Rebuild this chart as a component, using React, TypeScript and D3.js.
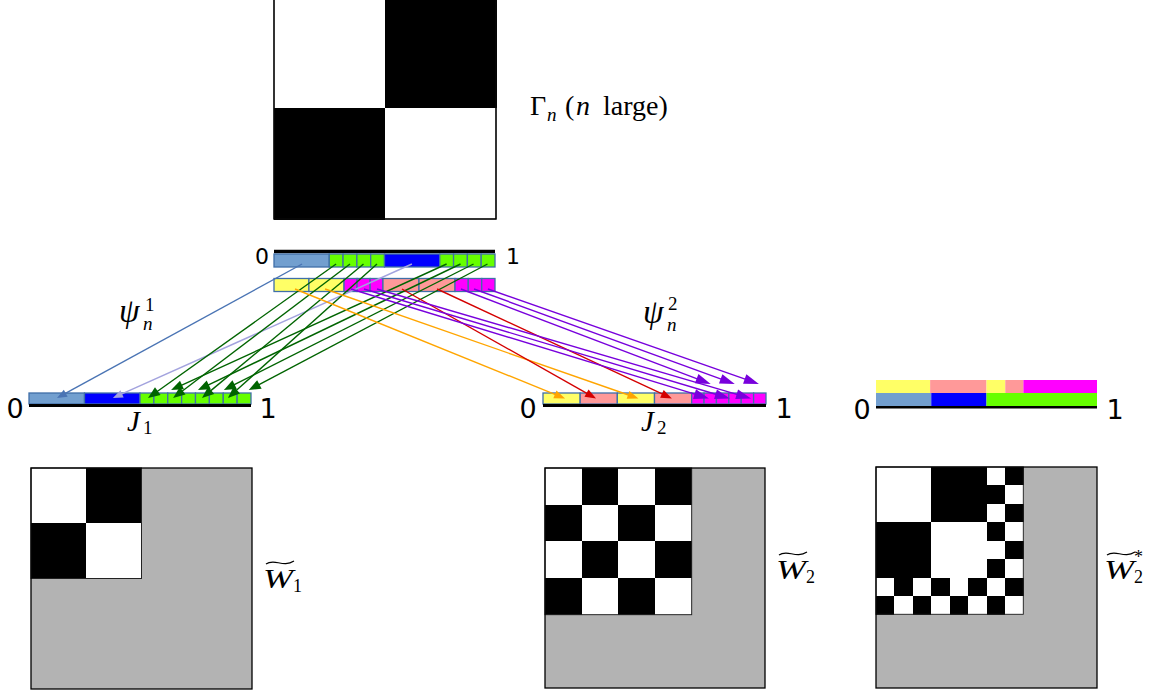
import React from 'react';
import * as d3 from 'd3';

// ---------- data ----------
const COLORS: Record<string, string> = {
  lb: '#729fcf', b: '#0000ff', g: '#66ff00', y: '#ffff66', p: '#ff9999', m: '#ff00ff',
};
const ARROW_COLORS: Record<string, string> = {
  steel: '#4a74b4', lav: '#a3a3de', green: '#006400', orange: '#ffa500', red: '#d40000', purple: '#7800dc',
};

// top bar (the interval [0,1] for Gamma_n), two rows
const topUpperBreaks = [0, 0.25, 0.3125, 0.375, 0.4375, 0.5, 0.75, 0.8125, 0.875, 0.9375, 1];
const topUpperColors = ['lb', 'g', 'g', 'g', 'g', 'b', 'g', 'g', 'g', 'g'];
const topLowerBreaks = [0, 0.158, 0.317, 0.376, 0.435, 0.493, 0.656, 0.819, 0.879, 0.94, 1];
const topLowerColors = ['y', 'y', 'm', 'm', 'm', 'p', 'p', 'm', 'm', 'm'];

// J1 bar
const j1Breaks = [0, 0.25, 0.5, 0.5625, 0.625, 0.6875, 0.75, 0.8125, 0.875, 0.9375, 1];
const j1Colors = ['lb', 'b', 'g', 'g', 'g', 'g', 'g', 'g', 'g', 'g'];
// J2 bar
const j2Breaks = [0, 1 / 6, 2 / 6, 3 / 6, 4 / 6, 13 / 18, 14 / 18, 15 / 18, 16 / 18, 17 / 18, 1];
const j2Colors = ['y', 'p', 'y', 'p', 'm', 'm', 'm', 'm', 'm', 'm'];
// third bar (two rows, no cell borders)
const thirdUpperBreaks = [0, 0.245, 0.5, 0.585, 0.667, 1];
const thirdUpperColors = ['y', 'p', 'y', 'p', 'm'];
const thirdLowerBreaks = [0, 0.25, 0.5, 1];
const thirdLowerColors = ['lb', 'b', 'g'];

// arrows from upper row of top bar to J1: [from, to, colour, level]
const psi1Arrows: [number, number, string, number][] = [
  [0.127, 0.126, 'steel', 0],
  [0.624, 0.378, 'lav', 0],
  [0.281, 0.536, 'green', 0],
  [0.344, 0.649, 'green', 0],
  [0.405, 0.779, 'green', 0],
  [0.466, 0.896, 'green', 0],
  [0.781, 0.640, 'green', 1],
  [0.844, 0.761, 'green', 1],
  [0.903, 0.878, 'green', 1],
  [0.966, 0.990, 'green', 1],
];
// arrows from lower row of top bar to J2
const psi2Arrows: [number, number, string, number][] = [
  [0.095, 0.099, 'orange', 0],
  [0.231, 0.428, 'orange', 0],
  [0.579, 0.238, 'red', 0],
  [0.738, 0.578, 'red', 0],
  [0.348, 0.744, 'purple', 0],
  [0.407, 0.838, 'purple', 0],
  [0.466, 0.933, 'purple', 0],
  [0.846, 0.752, 'purple', 1],
  [0.905, 0.860, 'purple', 1],
  [0.968, 0.968, 'purple', 1],
];

// matrices (1 = black, 0 = white); extent = share of [0,1] that is filled
const gammaMatrix = ['01', '10'];
const gammaExtent = 1;
const w1Matrix = ['01', '10'];
const w1Extent = 0.5;
const w2Matrix = ['0101', '1010', '0101', '1010'];
const w2Extent = 2 / 3;
const w2StarMatrix = [
  '00011101',
  '00011110',
  '00011101',
  '11100010',
  '11100001',
  '11100010',
  '01010101',
  '10101010',
];
const w2StarExtent = 2 / 3;

const digitLabels = ['0', '1'];

// ---------- helpers ----------
const CELL_STROKE = '#3f6fa8';
const GRAY = '#b3b3b3';

function Segments({ scale, breaks, colors, y, h, stroke }: any) {
  return (
    <g>
      {colors.map((c: string, i: number) => (
        <rect key={i} x={scale(breaks[i])} y={y} width={scale(breaks[i + 1]) - scale(breaks[i])} height={h}
          fill={COLORS[c]} stroke={stroke ? CELL_STROKE : 'none'} strokeWidth={stroke ? 1.3 : 0} />
      ))}
    </g>
  );
}

function Matrix({ x, y, size, rows, extent }: any) {
  const s = d3.scaleLinear().domain([0, 1]).range([0, size]);
  const n = rows.length;
  const cell = s(extent) / n;
  return (
    <g>
      <rect x={x} y={y} width={size} height={size} fill={GRAY} />
      <g shapeRendering="crispEdges">
        {rows.map((r: string, i: number) => r.split('').map((v, j) => (
          <rect key={i + '-' + j} x={x + j * cell} y={y + i * cell} width={cell + 0.5} height={cell + 0.5}
            fill={v === '1' ? '#000' : '#fff'} />
        )))}
      </g>
      <rect x={x} y={y} width={s(extent)} height={s(extent)} fill="none" stroke="#222" strokeWidth={1} />
      <rect x={x} y={y} width={size} height={size} fill="none" stroke="#000" strokeWidth={1.3} />
    </g>
  );
}

function Arrow({ x1, y1, x2, y2, color, len, hw }: any) {
  const dx = x2 - x1, dy = y2 - y1, L = Math.hypot(dx, dy);
  const ux = dx / L, uy = dy / L;
  const bx = x2 - ux * len, by = y2 - uy * len;
  const px = -uy * hw, py = ux * hw;
  return (
    <g>
      <line x1={x1} y1={y1} x2={bx + ux * 2} y2={by + uy * 2} stroke={color} strokeWidth={1.4} />
      <polygon points={`${x2},${y2} ${bx + px},${by + py} ${bx - px},${by - py}`} fill={color} />
    </g>
  );
}

function Tilde({ x, y, w }: any) {
  return (
    <path d={`M${x},${y + 2} C${x + w * 0.3},${y - 4} ${x + w * 0.6},${y + 6} ${x + w},${y - 1}`}
      fill="none" stroke="#000" strokeWidth={1.2} />
  );
}

const SERIF = '"Liberation Serif", "DejaVu Serif", serif';
const SANS = '"DejaVu Sans", sans-serif';

function WLabel({ x, y, sub, star }: any) {
  return (
    <g fontFamily={SERIF}>
      <Tilde x={x + 3} y={y - 26} w={28} />
      <text x={x} y={y} fontSize={28} fontStyle="italic" textLength={30} lengthAdjust="spacingAndGlyphs">W</text>
      <text x={x + 30} y={y + 4} fontSize={18}>{sub}</text>
      {star ? <text x={x + 30} y={y - 16} fontSize={18}>*</text> : null}
    </g>
  );
}

export default function App() {
  const xTop = d3.scaleLinear().domain([0, 1]).range([274, 495]);
  const xJ1 = d3.scaleLinear().domain([0, 1]).range([29, 251]);
  const xJ2 = d3.scaleLinear().domain([0, 1]).range([543, 766]);
  const x3 = d3.scaleLinear().domain([0, 1]).range([876, 1097]);

  const topUpperY = 254, topLowerY = 278.5, rowH = 13;
  const jRowY = 393, jRowH = 11;

  return (
    <svg width={1152} height={694} style={{ position: 'absolute', left: 0, top: 0, background: '#fff' }}>
      {/* Gamma_n matrix */}
      <Matrix x={274} y={-3} size={222} rows={gammaMatrix} extent={gammaExtent} />
      <g fontFamily={SERIF} fontSize={28}>
        <text x={530} y={115}>Γ</text>
        <text x={547} y={121} fontSize={19} fontStyle="italic">n</text>
        <text x={565} y={115}>(</text>
        <text x={576} y={115} fontStyle="italic">n</text>
        <text x={603} y={115}>large)</text>
      </g>

      {/* top bar */}
      <line x1={xTop(0)} x2={xTop(1)} y1={251.5} y2={251.5} stroke="#000" strokeWidth={3.5} />
      <Segments scale={xTop} breaks={topUpperBreaks} colors={topUpperColors} y={topUpperY} h={rowH} stroke />
      <Segments scale={xTop} breaks={topLowerBreaks} colors={topLowerColors} y={topLowerY} h={rowH} stroke />
      <text x={xTop(0) - 12} y={264} textAnchor="middle" fontFamily={SANS} fontSize={22}>{digitLabels[0]}</text>
      <text x={xTop(1) + 18} y={264} textAnchor="middle" fontFamily={SANS} fontSize={22}>{digitLabels[1]}</text>

      {/* J1 bar */}
      <Segments scale={xJ1} breaks={j1Breaks} colors={j1Colors} y={jRowY} h={jRowH} stroke />
      <line x1={xJ1(0)} x2={xJ1(1)} y1={405.5} y2={405.5} stroke="#000" strokeWidth={3} />
      <text x={xJ1(0) - 14} y={418} textAnchor="middle" fontFamily={SANS} fontSize={27}>{digitLabels[0]}</text>
      <text x={xJ1(1) + 17} y={418} textAnchor="middle" fontFamily={SANS} fontSize={27}>{digitLabels[1]}</text>
      <text x={127} y={431} fontFamily={SERIF} fontSize={29} fontStyle="italic">J</text>
      <text x={143} y={434} fontFamily={SERIF} fontSize={19}>1</text>

      {/* J2 bar */}
      <Segments scale={xJ2} breaks={j2Breaks} colors={j2Colors} y={jRowY} h={jRowH} stroke />
      <line x1={xJ2(0)} x2={xJ2(1)} y1={405.5} y2={405.5} stroke="#000" strokeWidth={3} />
      <text x={xJ2(0) - 15} y={418} textAnchor="middle" fontFamily={SANS} fontSize={27}>{digitLabels[0]}</text>
      <text x={xJ2(1) + 18} y={418} textAnchor="middle" fontFamily={SANS} fontSize={27}>{digitLabels[1]}</text>
      <text x={641} y={431} fontFamily={SERIF} fontSize={29} fontStyle="italic">J</text>
      <text x={657} y={434} fontFamily={SERIF} fontSize={19}>2</text>

      {/* third bar */}
      <Segments scale={x3} breaks={thirdUpperBreaks} colors={thirdUpperColors} y={380} h={13} />
      <Segments scale={x3} breaks={thirdLowerBreaks} colors={thirdLowerColors} y={393} h={13} />
      <line x1={x3(0)} x2={x3(1)} y1={407.2} y2={407.2} stroke="#000" strokeWidth={2.6} />
      <text x={x3(0) - 14} y={419} textAnchor="middle" fontFamily={SANS} fontSize={27}>{digitLabels[0]}</text>
      <text x={x3(1) + 18} y={419} textAnchor="middle" fontFamily={SANS} fontSize={27}>{digitLabels[1]}</text>

      {/* arrows psi^1 */}
      {psi1Arrows.map(([f, t, c, lvl], i) => (
        <Arrow key={'a1' + i} x1={xTop(f)} y1={264} x2={xJ1(t)} y2={lvl ? 390 : 398}
          color={ARROW_COLORS[c]} len={c === 'green' ? 12 : 10} hw={c === 'green' ? 4.8 : 4} />
      ))}
      {/* arrows psi^2 */}
      {psi2Arrows.map(([f, t, c, lvl], i) => (
        <Arrow key={'a2' + i} x1={xTop(f)} y1={289} x2={xJ2(t)} y2={lvl ? 384 : 398.5}
          color={ARROW_COLORS[c]} len={c === 'purple' ? 15 : 11} hw={c === 'purple' ? 5 : 4.2} />
      ))}

      {/* psi labels */}
      <g fontFamily={SERIF}>
        <text x={119} y={322} fontSize={33} fontStyle="italic">ψ</text>
        <text x={145} y={311} fontSize={19}>1</text>
        <text x={143} y={330} fontSize={19} fontStyle="italic">n</text>
        <text x={643} y={323} fontSize={33} fontStyle="italic">ψ</text>
        <text x={668} y={310} fontSize={19}>2</text>
        <text x={667} y={331} fontSize={19} fontStyle="italic">n</text>
      </g>

      {/* bottom matrices */}
      <Matrix x={31} y={468} size={221} rows={w1Matrix} extent={w1Extent} />
      <Matrix x={545} y={468} size={220} rows={w2Matrix} extent={w2Extent} />
      <Matrix x={876} y={467} size={221} rows={w2StarMatrix} extent={w2StarExtent} />

      {/* W labels */}
      <WLabel x={263} y={588} sub="1" />
      <WLabel x={776} y={579} sub="2" />
      <WLabel x={1104} y={579} sub="2" star />
    </svg>
  );
}
